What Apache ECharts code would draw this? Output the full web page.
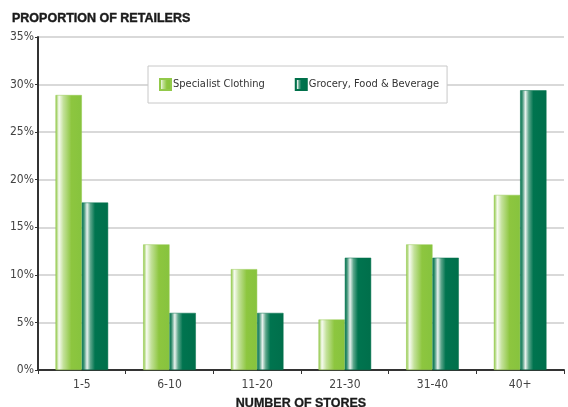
<!DOCTYPE html>
<html>
<head>
<meta charset="utf-8">
<script src="https://cdn.jsdelivr.net/npm/echarts@6/dist/echarts.min.js"></script>
<style>
  html, body { margin: 0; padding: 0; background: #fff; }
  #chart { width: 568px; height: 407px; }
</style>
</head>
<body>
<div id="chart"></div>
<script>
// Share of retailers by number of stores operated
const storeBands = ['1-5', '6-10', '11-20', '21-30', '31-40', '40+'];
const specialistClothing = [28.9, 13.2, 10.6, 5.3, 13.2, 18.4];
const groceryFoodBeverage = [17.6, 6.0, 6.0, 11.8, 11.8, 29.4];
const seriesNames = ['Specialist Clothing', 'Grocery, Food & Beverage'];
const yTicks = { min: 0, max: 35, interval: 5 };

const narrow = "'Liberation Sans Narrow', 'DejaVu Sans Condensed', 'Arial Narrow', sans-serif";
const heavy = "'Liberation Sans', Arial, Helvetica, sans-serif";

// Shiny cylinder-like horizontal gradients for the bars
const lightGreen = new echarts.graphic.LinearGradient(0, 0, 1, 0, [
  { offset: 0, color: '#8dc63f' },
  { offset: 0.06, color: '#b9dc8c' },
  { offset: 0.13, color: '#f7fbf1' },
  { offset: 0.3, color: '#c3e19a' },
  { offset: 0.6, color: '#8dc63f' },
  { offset: 1, color: '#87c33e' }
]);
const darkGreen = new echarts.graphic.LinearGradient(0, 0, 1, 0, [
  { offset: 0, color: '#00744f' },
  { offset: 0.08, color: '#3d9275' },
  { offset: 0.2, color: '#e9f2ee' },
  { offset: 0.33, color: '#5ba58a' },
  { offset: 0.5, color: '#00744f' },
  { offset: 1, color: '#006f4b' }
]);

const chart = echarts.init(document.getElementById('chart'), null, { renderer: 'canvas' });
chart.setOption({
  animation: false,
  backgroundColor: '#fff',
  title: {
    text: 'PROPORTION OF RETAILERS',
    left: 12,
    top: 12,
    padding: 0,
    textStyle: {
      fontFamily: heavy,
      fontSize: 12.5,
      fontWeight: 900,
      color: '#1a1a1a',
      textBorderColor: '#1a1a1a',
      textBorderWidth: 0.4
    }
  },
  legend: {
    left: 148,
    top: 66,
    padding: [12, 8, 12, 11],
    itemWidth: 11,
    itemHeight: 11,
    itemGap: 30,
    backgroundColor: '#fff',
    borderColor: '#c8c8c8',
    borderWidth: 1,
    borderRadius: 0,
    icon: 'rect',
    textStyle: { fontFamily: narrow, fontSize: 11, color: '#333', padding: [0, 0, 0, -3] },
    data: seriesNames
  },
  grid: { left: 38, right: 4, top: 37, bottom: 37, containLabel: false, outerBoundsMode: 'none' },
  xAxis: {
    type: 'category',
    data: storeBands,
    name: 'NUMBER OF STORES',
    nameLocation: 'middle',
    nameGap: 27,
    nameTextStyle: {
      fontFamily: heavy,
      fontSize: 12.5,
      fontWeight: 900,
      color: '#1a1a1a',
      textBorderColor: '#1a1a1a',
      textBorderWidth: 0.3
    },
    axisLine: { lineStyle: { color: '#333', width: 2 } },
    axisTick: { show: true, length: 4, lineStyle: { color: '#333', width: 1 } },
    axisLabel: { fontFamily: narrow, fontSize: 12, color: '#444', margin: 9 }
  },
  yAxis: {
    type: 'value',
    min: yTicks.min,
    max: yTicks.max,
    interval: yTicks.interval,
    axisLine: { show: true, lineStyle: { color: '#333', width: 2 } },
    axisTick: { show: true, length: 3, lineStyle: { color: '#333', width: 1 } },
    axisLabel: { fontFamily: narrow, fontSize: 12, color: '#444', margin: 4, formatter: '{value}%' },
    splitLine: { show: true, lineStyle: { color: '#cccccc', width: 1.5 } }
  },
  series: [
    {
      name: seriesNames[0],
      type: 'bar',
      data: specialistClothing,
      barGap: '0%',
      barCategoryGap: '40%',
      itemStyle: { color: lightGreen, borderColor: '#92c94a', borderWidth: 0.5 }
    },
    {
      name: seriesNames[1],
      type: 'bar',
      data: groceryFoodBeverage,
      barGap: '0%',
      barCategoryGap: '40%',
      itemStyle: { color: darkGreen, borderColor: '#00704a', borderWidth: 0.5 }
    }
  ]
});
</script>
</body>
</html>
